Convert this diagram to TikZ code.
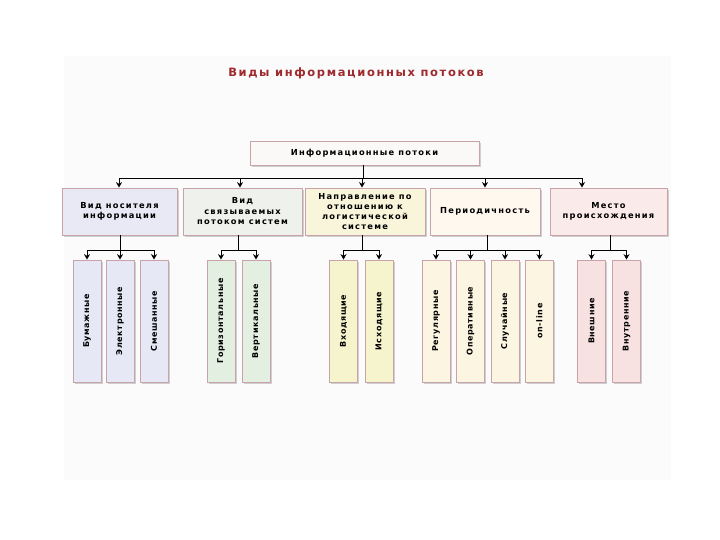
\documentclass[tikz,border=0pt]{standalone}
\usepackage{fontspec}
\setmainfont{Liberation Sans}
\newfontfamily\titlefont[LetterSpace=14]{DejaVu Sans}
\newfontfamily\boxfont[LetterSpace=15]{DejaVu Sans}
\newfontfamily\childfont[LetterSpace=8]{DejaVu Sans}
\usetikzlibrary{arrows.meta,shadows,positioning}
\definecolor{bgpanel}{HTML}{FBFBFB}
\definecolor{titlered}{HTML}{9E2A2E}
\definecolor{boxedge}{HTML}{C9A3AA}
\definecolor{fillA}{HTML}{E9E9F5}
\definecolor{fillAc}{HTML}{E6E8F6}
\definecolor{fillB}{HTML}{EEF1EC}
\definecolor{fillBc}{HTML}{E3EFE0}
\definecolor{fillC}{HTML}{F8F5DA}
\definecolor{fillCc}{HTML}{F5F4CD}
\definecolor{fillD}{HTML}{FFF8EF}
\definecolor{fillDc}{HTML}{FCF5E1}
\definecolor{fillE}{HTML}{FBEAEA}
\definecolor{fillEc}{HTML}{F8E1E1}
\definecolor{fillTop}{HTML}{FBF8F8}
\tikzset{
  box/.style={draw=boxedge, line width=0.8pt, inner sep=1pt, align=center,
    font=\boxfont\bfseries\fontsize{8.3}{10.5}\selectfont,
    drop shadow={shadow xshift=1.6pt, shadow yshift=-1.6pt, fill=black!30, opacity=0.6}},
  catbox/.style={box, minimum height=47pt},
  childbox/.style={box, minimum width=122pt, minimum height=28pt, rotate=90,
    font=\childfont\bfseries\fontsize{8}{9}\selectfont},
  link/.style={line width=0.9pt, draw=black},
  arr/.style={link, -{Stealth[length=5.5pt,width=6pt]}}
}
\begin{document}
\begin{tikzpicture}[x=1pt,y=-1pt]
\useasboundingbox (0,0) rectangle (720,540);
\fill[bgpanel] (64,56) rectangle (671,480);
\node[text=titlered, font=\titlefont\bfseries\fontsize{11.5}{13}\selectfont] (title) at (356,73) {Виды информационных потоков};

\node[box, fill=fillTop, minimum width=229pt, minimum height=24pt] (top) at (364.5,153) {Информационные потоки};

\node[catbox, fill=fillA, minimum width=115pt] (c1) at (119.5,211.5) {Вид носителя\\информации};
\node[catbox, fill=fillB, minimum width=119pt] (c2) at (242.5,211.5) {Вид\\связываемых\\потоком систем};
\node[catbox, fill=fillC, minimum width=120pt, font=\boxfont\bfseries\fontsize{8.3}{10}\selectfont] (c3) at (365,211.5) {Направление по\\отношению к\\логистической\\системе};
\node[catbox, fill=fillD, minimum width=110pt] (c4) at (485,211.5) {Периодичность};
\node[catbox, fill=fillE, minimum width=117pt] (c5) at (608.5,211.5) {Место\\происхождения};

% children
\node[childbox, fill=fillAc] (a1) at (87,321) {Бумажные};
\node[childbox, fill=fillAc] (a2) at (120,321) {Электронные};
\node[childbox, fill=fillAc] (a3) at (154,321) {Смешанные};
\node[childbox, fill=fillBc] (b1) at (221,321) {Горизонтальные};
\node[childbox, fill=fillBc] (b2) at (256,321) {Вертикальные};
\node[childbox, fill=fillCc] (d1) at (343.5,321) {Входящие};
\node[childbox, fill=fillCc] (d2) at (379,321) {Исходящие};
\node[childbox, fill=fillDc] (e1) at (436,321) {Регулярные};
\node[childbox, fill=fillDc] (e2) at (470.5,321) {Оперативные};
\node[childbox, fill=fillDc] (e3) at (505,321) {Случайные};
\node[childbox, fill=fillDc] (e4) at (539.5,321) {on-line};
\node[childbox, fill=fillEc] (f1) at (591.5,321) {Внешние};
\node[childbox, fill=fillEc] (f2) at (626.5,321) {Внутренние};

% top bus
\coordinate (tb) at (363,178);
\coordinate (t1) at (119,178);
\coordinate (t2) at (240,178);
\coordinate (t3) at (362,178);
\coordinate (t4) at (485,178);
\coordinate (t5) at (582,178);
\draw[link] (top.south -| tb) -- (tb);
\draw[link] (t1) -- (t5);
\draw[arr] (t1) -- (t1 |- c1.north);
\draw[arr] (t2) -- (t2 |- c2.north);
\draw[arr] (t3) -- (t3 |- c3.north);
\draw[arr] (t4) -- (t4 |- c4.north);
\draw[arr] (t5) -- (t5 |- c5.north);

% group 1
\coordinate (g1) at (120,250);
\draw[link] (c1.south -| g1) -- (g1);
\draw[link] (a1.east |- g1) -- (a3.east |- g1);
\foreach \n in {a1,a2,a3} \draw[arr] (\n.east |- g1) -- (\n.east);
% group 2
\coordinate (g2) at (238,250);
\draw[link] (c2.south -| g2) -- (g2);
\draw[link] (b1.east |- g2) -- (b2.east |- g2);
\foreach \n in {b1,b2} \draw[arr] (\n.east |- g2) -- (\n.east);
% group 3
\coordinate (g3) at (362,250);
\draw[link] (c3.south -| g3) -- (g3);
\draw[link] (d1.east |- g3) -- (d2.east |- g3);
\foreach \n in {d1,d2} \draw[arr] (\n.east |- g3) -- (\n.east);
% group 4
\coordinate (g4) at (487,250);
\draw[link] (c4.south -| g4) -- (g4);
\draw[link] (e1.east |- g4) -- (e4.east |- g4);
\foreach \n in {e1,e2,e3,e4} \draw[arr] (\n.east |- g4) -- (\n.east);
% group 5
\coordinate (g5) at (610,250);
\draw[link] (c5.south -| g5) -- (g5);
\draw[link] (f1.east |- g5) -- (f2.east |- g5);
\foreach \n in {f1,f2} \draw[arr] (\n.east |- g5) -- (\n.east);
\end{tikzpicture}
\end{document}
